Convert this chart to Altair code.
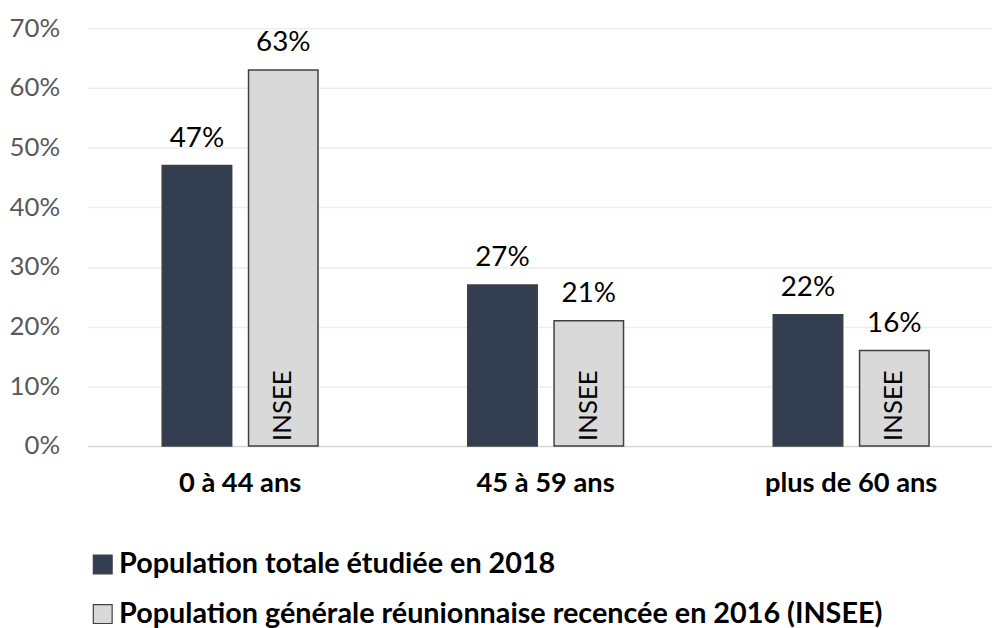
import altair as alt
import pandas as pd

categories = ["0 à 44 ans", "45 à 59 ans", "plus de 60 ans"]
series = [
    "Population totale étudiée en 2018",
    "Population générale réunionnaise recencée en 2016 (INSEE)",
]
total_2018 = [47, 27, 22]
insee_2016 = [63, 21, 16]
inside_text = ["", "INSEE"]
y_ticks = [0, 10, 20, 30, 40, 50, 60, 70]
colors = ["#333F50", "#D9D9D9"]

rows = []
for i, c in enumerate(categories):
    for s, vals, ins in zip(series, [total_2018, insee_2016], inside_text):
        rows.append({"cat": c, "serie": s, "value": vals[i] / 100,
                     "label": f"{vals[i]}%", "inside": ins})
df = pd.DataFrame(rows)

FONT = "Lato"

x = alt.X("cat:N", sort=categories, title=None,
          scale=alt.Scale(range=[0, 924], paddingInner=0, paddingOuter=0),
          axis=alt.Axis(labelAngle=0, labelFont=FONT, labelFontSize=27.5,
                        labelFontWeight="bold", labelColor="black",
                        labelBaseline="alphabetic", labelPadding=46,
                        ticks=False, tickSize=0, domain=True,
                        domainColor="#D9D9D9", domainWidth=1.5, grid=False))
xo = alt.XOffset("serie:N", sort=series,
                 scale=alt.Scale(paddingInner=0.195, paddingOuter=0.867))
y = alt.Y("value:Q", title=None,
          scale=alt.Scale(domain=[0, 0.7], nice=False),
          axis=alt.Axis(values=[v / 100 for v in y_ticks], format=".0%",
                        labelFont=FONT, labelFontSize=26, labelColor="#595959",
                        labelPadding=28, ticks=False, tickSize=0, domain=False,
                        grid=True, gridColor="#EDEDED", gridWidth=1.5))

color = alt.Color("serie:N", sort=series,
                  scale=alt.Scale(domain=series, range=colors),
                  legend=alt.Legend(title=None, orient="none", legendX=1, legendY=526,
                                    direction="vertical", symbolType="square",
                                    symbolSize=361, symbolStrokeColor="#404040",
                                    symbolStrokeWidth=1.2, labelFont=FONT,
                                    labelFontSize=29, labelFontWeight="bold",
                                    labelColor="black", labelOffset=2,
                                    labelLimit=0, rowPadding=20, padding=0))

base = alt.Chart(df)

bars = base.mark_bar(stroke="#404040", strokeWidth=1.5).encode(
    x=x, xOffset=xo, y=y, color=color)

labels = base.mark_text(font=FONT, fontSize=28, color="black",
                        baseline="alphabetic", dy=-19).encode(
    x=x, xOffset=xo, y=y, text="label:N")

insee = base.transform_filter("datum.inside != ''").mark_text(
    font=FONT, fontSize=26, color="black", angle=270, align="left",
    baseline="middle", dx=5).encode(
    x=x, xOffset=xo, y=alt.datum(0), text="inside:N")

chart = alt.layer(bars, labels, insee).properties(
    width=912, height=421,
    autosize=alt.AutoSizeParams(type="none"),
    padding={"left": 80, "top": 18, "right": 0, "bottom": 181},
).configure_view(stroke=None)

chart.save("out.html", embed_options={"renderer": "svg", "actions": False})
